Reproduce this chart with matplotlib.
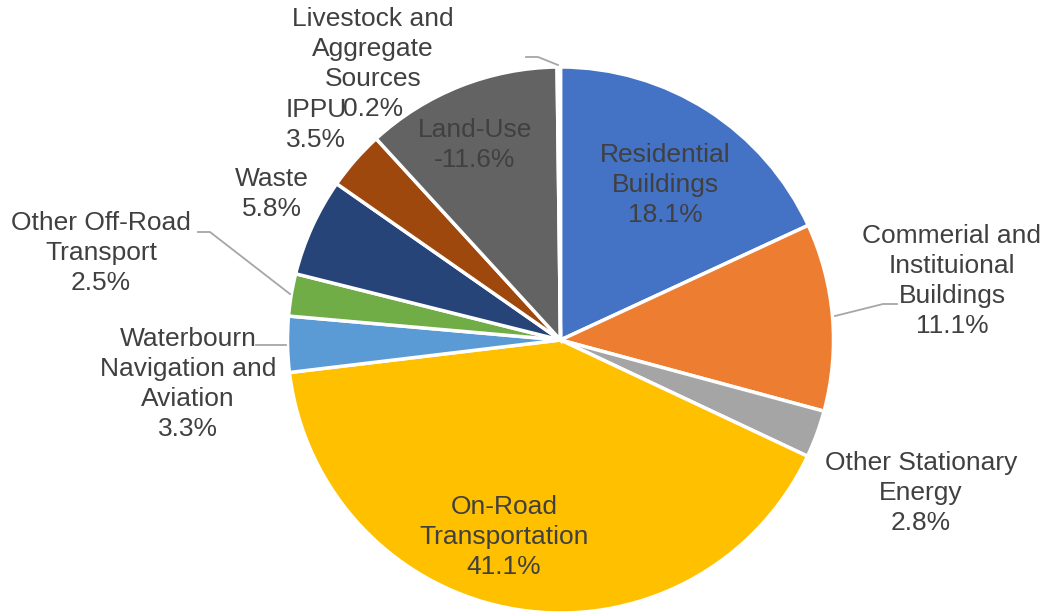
import matplotlib
matplotlib.use("Agg")
import matplotlib.pyplot as plt

categories = ["Residential\nBuildings", "Commerial and\nInstituional\nBuildings",
              "Other Stationary\nEnergy", "On-Road\nTransportation",
              "Waterbourn\nNavigation and\nAviation", "Other Off-Road\nTransport",
              "Waste", "IPPU", "Land-Use", "Livestock and\nAggregate\nSources"]
values = [18.1, 11.1, 2.8, 41.1, 3.3, 2.5, 5.8, 3.5, -11.6, 0.2]
colors = ["#4472C4", "#ED7D31", "#A5A5A5", "#FFC000", "#5B9BD5", "#70AD47",
          "#264478", "#9E480E", "#636363", "#FFFFFF"]

# label positions (pixel coords, origin top-left)
label_pos = [(665, 185), (952, 281), (921, 493), (504, 537), (188, 384),
             (101, 253), (272, 194), (316, 125), (475, 145), (373, 64)]

W, H = 1049, 615
fig = plt.figure(figsize=(W / 100, H / 100), dpi=100)
ax = fig.add_axes([0, 0, 1, 1])
ax.set_xlim(0, W)
ax.set_ylim(0, H)
ax.set_aspect("equal")
ax.axis("off")

cx, cy, r = 560.5, H - 340, 273
ax.pie([abs(v) for v in values], colors=colors, startangle=90, counterclock=False,
       center=(cx, cy), radius=r, frame=True,
       wedgeprops=dict(edgecolor="white", linewidth=2.5))
ax.set_xlim(0, W)
ax.set_ylim(0, H)
ax.axis("off")

txtc = "#404040"
for cat, v, (px, py) in zip(categories, values, label_pos):
    ax.text(px, H - py, f"{cat}\n{v:.1f}%", ha="center", va="center",
            fontsize=19, color=txtc, family="Liberation Sans", linespacing=1.31)

lc = "#A6A6A6"
leaders = [
    [(835, 316), (883, 304), (897, 304)],
    [(290, 294), (210, 232), (198, 232)],
    [(558, 65), (538, 57), (526, 57)],
    [(286, 345), (256, 345)],
]
for pts in leaders:
    xs = [p[0] for p in pts]
    ys = [H - p[1] for p in pts]
    ax.plot(xs, ys, color=lc, linewidth=1.3)

fig.savefig("out.png", dpi=100, facecolor="white")
